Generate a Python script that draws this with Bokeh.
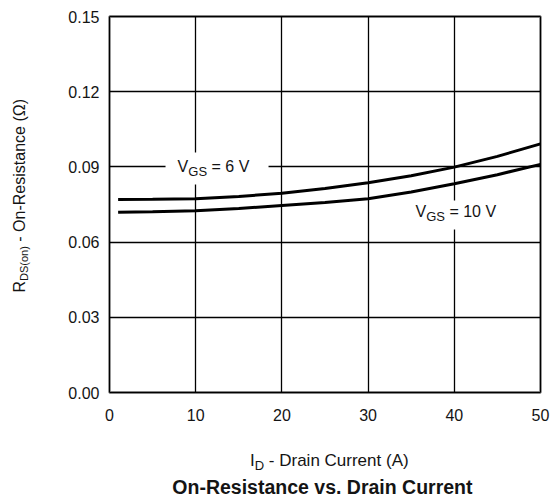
from bokeh.plotting import figure
from bokeh.models import Range1d, FixedTicker, PrintfTickFormatter, Label, BoxAnnotation
from bokeh.embed import file_html
from bokeh.resources import INLINE

# ---- data ----
id_amps = [1, 5, 10, 15, 20, 25, 30, 35, 40, 45, 50]
rds_vgs6 = [0.0770, 0.0771, 0.0773, 0.0782, 0.0795, 0.0814, 0.0837, 0.0865, 0.0899, 0.0942, 0.0992]
rds_vgs10 = [0.0719, 0.0721, 0.0725, 0.0734, 0.0746, 0.0758, 0.0773, 0.0800, 0.0833, 0.0869, 0.0910]
x_ticks = [0, 10, 20, 30, 40, 50]
y_ticks = [0.00, 0.03, 0.06, 0.09, 0.12, 0.15]
x_lim = (0, 50)
y_lim = (0.0, 0.15)

# ---- layout (pixels) ----
W, H = 550, 497
FL, FR, FT, FB = 109, 540, 16, 392   # data-area box inside the canvas

FONT = "Liberation Sans"
TXT = "#141414"

kx = (FR - FL) / (x_lim[1] - x_lim[0])
ky = (FB - FT) / (y_lim[1] - y_lim[0])
x_range = Range1d(x_lim[0] - FL / kx, x_lim[1] + (W - FR) / kx)
y_range = Range1d(y_lim[0] - (H - FB) / ky, y_lim[1] + FT / ky)

p = figure(width=W, height=H, output_backend="svg", toolbar_location=None,
           x_range=x_range, y_range=y_range, title=None, min_border=0,
           min_border_left=0, min_border_right=0, min_border_top=0, min_border_bottom=0)
p.background_fill_color = "white"
p.border_fill_color = "white"
p.outline_line_color = None
p.grid.visible = False

# axes sit on the data box; their long inward ticks form the grid
for ax, ticks, loc, span in ((p.xaxis, x_ticks, y_lim[0], FB - FT),
                             (p.yaxis, y_ticks, x_lim[0], FR - FL)):
    ax.ticker = FixedTicker(ticks=ticks)
    ax.fixed_location = loc
    ax.axis_line_color = None
    ax.major_tick_line_color = "black"
    ax.major_tick_line_width = 1.3
    ax.major_tick_in = span
    ax.major_tick_out = 0
    ax.minor_tick_line_color = None
    ax.major_label_text_font = FONT
    ax.major_label_text_font_size = "16px"
    ax.major_label_text_color = TXT
p.xaxis.major_label_standoff = 16
p.yaxis.major_label_standoff = 10
p.yaxis.formatter = PrintfTickFormatter(format="%.2f")

p.line(id_amps, rds_vgs6, line_color="black", line_width=3)
p.line(id_amps, rds_vgs10, line_color="black", line_width=3)

# heavy border round the data box
p.add_layout(BoxAnnotation(left=x_lim[0], right=x_lim[1], bottom=y_lim[0], top=y_lim[1],
                           fill_alpha=0, line_color="black", line_width=3))

# white boxes behind the curve labels (break the grid lines)
p.add_layout(BoxAnnotation(left=6.5, right=18.45, bottom=0.083, top=0.0957,
                           fill_color="white", fill_alpha=1, line_color=None))
p.add_layout(BoxAnnotation(left=34.3, right=46.5, bottom=0.065, top=0.0766,
                           fill_color="white", fill_alpha=1, line_color=None))

WID = {"V": .667, "G": .778, "S": .667, " ": .278, "=": .584, "6": .556, "1": .556, "0": .556,
       "I": .278, "D": .722, "-": .333, "r": .333, "a": .556, "i": .222, "n": .556, "C": .722,
       "u": .556, "e": .556, "t": .278, "(": .333, "A": .667, ")": .333, "R": .722, "o": .556,
       "O": .778, "s": .5, "c": .5, "Ω": .768}
BASE_FIX = 0.37   # renderer places the alphabetic baseline this many ems low


def tw(s, size):
    return sum(WID[c] for c in s) * size


def rich(x, y, parts, xo=0.0, yo=0.0, rotated=False, center=False):
    adv = 0.0
    if center:
        adv = -sum(tw(t, sz) for t, sz, _ in parts) / 2
    for text, size, shift in parts:
        lead = len(text) - len(text.lstrip(" "))
        a = adv + tw(" " * lead, size)
        down = shift - BASE_FIX * size
        if rotated:
            dx, dy = xo + down, yo + a
        else:
            dx, dy = xo + a, yo - down
        p.add_layout(Label(x=x, y=y, x_offset=dx, y_offset=dy, text=text.strip(" "),
                           angle=1.5707963267948966 if rotated else 0,
                           text_font=FONT, text_font_size=f"{size}px", text_color=TXT,
                           text_align="left", text_baseline="alphabetic"))
        adv += tw(text, size)


rich(7.9, 0.0878, [("V", 16, 0), ("GS", 13, 4), (" = 6 V", 16, 0)])
rich(35.5, 0.0698, [("V", 16, 0), ("GS", 13, 4), (" = 10 V", 16, 0)])
rich(0, 0, [("R", 16, 0), ("DS(on)", 11, 3), (" - On-Resistance (Ω)", 16, 0)],
     xo=-84, yo=100, rotated=True)
rich(25.5, 0, [("I", 17, 0), ("D", 13, 4), (" - Drain Current (A)", 17, 0)],
     yo=-74, center=True)
p.add_layout(Label(x=24.7, y=0, y_offset=-102 + BASE_FIX * 19.5,
                   text="On-Resistance vs. Drain Current",
                   text_font=FONT, text_font_size="19.5px", text_font_style="bold",
                   text_color=TXT, text_align="center", text_baseline="alphabetic"))

open("out.html", "w").write(file_html(p, INLINE))
